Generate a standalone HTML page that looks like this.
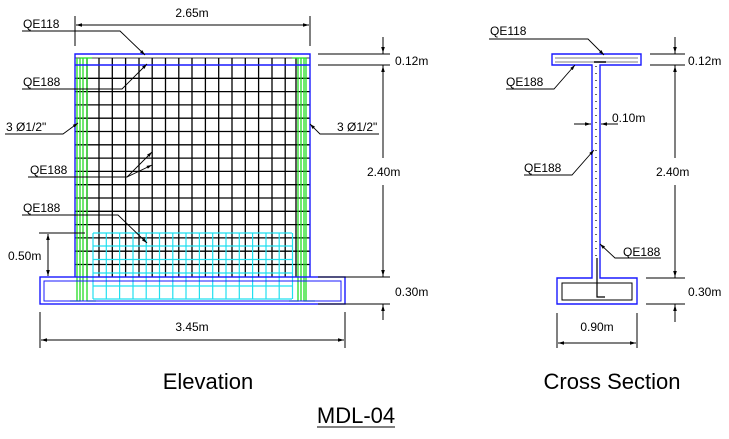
<!DOCTYPE html>
<html><head><meta charset="utf-8"><style>
html,body{margin:0;padding:0;background:#fff}
svg{display:block}
text{font-family:"Liberation Sans",sans-serif;fill:#000}
</style></head><body>
<svg width="729" height="439" viewBox="0 0 729 439" xmlns="http://www.w3.org/2000/svg">
<defs>
<marker id="a" viewBox="0 0 10 10" refX="10" refY="5" markerWidth="6" markerHeight="6" orient="auto-start-reverse"><path d="M0,2 L10,5 L0,8z" fill="#000"/></marker>
</defs>
<g stroke="#000" stroke-width="1.3">
<path d="M75,78.3H310M75,91.6H310M75,104.9H310M75,118.2H310M75,131.5H310M75,144.8H310M75,158.1H310M75,171.4H310M75,184.7H310M75,198H310M75,211.3H310M75,224.6H310M75,237.9H310M75,251.2H310M75,264.5H310"/>
<path d="M87,58V277M99,58V277M112.3,58V277M125.6,58V277M139,58V277M152.2,58V277M165.5,58V277M178.8,58V277M192,58V277M205.4,58V277M218.7,58V277M232,58V277M245.3,58V277M258.6,58V277M272,58V277M285.2,58V277M296,58V277"/>
<path d="M75,58H310" stroke-width="0.8"/>
</g>
<g stroke="#22e0f0" stroke-width="1.2" fill="none">
<path d="M93,233H292M93,246H292M93,259.5H292M93,273H292M93,286H292M93,299H292"/>
<path d="M93,233V299M106.3,233V299M119.6,233V299M133,233V299M146.2,233V299M159.5,233V299M172.8,233V299M186,233V299M199.4,233V299M212.7,233V299M226,233V299M239.3,233V299M252.6,233V299M266,233V299M279.2,233V299M292.5,233V299"/>
</g>
<g stroke="#22dd22" stroke-width="1.3" fill="none">
<path d="M77,58V301M80,58V301H70M83,58V301M87,58V301H96M80,58H92"/>
<path d="M298,58V301H289M301,58V301M304,58V301H315M306,58V301M292,58H306"/>
</g>
<g stroke="#1a1aff" stroke-width="1.4" fill="none">
<path d="M75,277V54H310V277M75,65H310"/>
<rect x="40" y="277" width="305" height="27"/>
<path d="M44,291V281H341V291M44,281V301H341V281" stroke-width="1"/>
</g>
<g stroke="#000" stroke-width="1" fill="none">
<path d="M75,16V46M310,16V46"/>
<path d="M76,25H309" marker-start="url(#a)" marker-end="url(#a)"/>
<path d="M40,312V348M345,312V348"/>
<path d="M41,340H344" marker-start="url(#a)" marker-end="url(#a)"/>
<path d="M318,54H390M318,65H390M318,277H390M318,304H390"/>
<path d="M383,37V54M383,65V158M383,185V277M383,304V320"/>
<path d="M383,42V53" marker-end="url(#a)"/><path d="M383,76V66" marker-end="url(#a)"/>
<path d="M383,266V276" marker-end="url(#a)"/><path d="M383,315V305" marker-end="url(#a)"/>
<path d="M39,233H85"/>
<path d="M48,234V276" marker-start="url(#a)" marker-end="url(#a)"/>
<path d="M22,31H120L145,55" marker-end="url(#a)" stroke-width="0.9"/>
<path d="M22,89H122L147,64" marker-end="url(#a)" stroke-width="0.9"/>
<path d="M5,134H63L78,123" marker-end="url(#a)" stroke-width="0.9"/>
<path d="M322,134H320L310,124" marker-end="url(#a)" stroke-width="0.9"/>
<path d="M28,177H127L152,152" marker-end="url(#a)" stroke-width="0.9"/>
<path d="M127,177L152,165" marker-end="url(#a)" stroke-width="0.9"/>
<path d="M22,215H118L147,243" marker-end="url(#a)" stroke-width="0.9"/>
<path d="M320,134H379" stroke-width="0.9"/>
</g>
<g font-size="12">
<text x="192" y="17" text-anchor="middle">2.65m</text>
<text x="23" y="28">QE118</text>
<text x="23" y="86">QE188</text>
<text x="6" y="131">3 Ø1/2"</text>
<text x="337" y="131">3 Ø1/2"</text>
<text x="30" y="174">QE188</text>
<text x="23" y="212">QE188</text>
<text x="8" y="260">0.50m</text>
<text x="395" y="65">0.12m</text>
<text x="367" y="176">2.40m</text>
<text x="395" y="296">0.30m</text>
<text x="192" y="331" text-anchor="middle">3.45m</text>
</g>
<g stroke="#1a1aff" stroke-width="1.4" fill="none">
<path d="M552,54H641V65H600V278H637V304H557V278H592V65H552Z"/>
</g>
<g stroke="#000" stroke-width="1" fill="none">
<path d="M555,58H638M555,62H638" stroke-width="0.6"/>
<rect x="562" y="283" width="70" height="17" stroke-width="1"/>
<path d="M596,66V258" stroke-dasharray="1,6" stroke-width="1.2"/>
<path d="M597,258V297H605" stroke-width="1.2"/>
<path d="M594,62H606" stroke-width="1.5"/>
<path d="M489,39H588L604,55" marker-end="url(#a)" stroke-width="0.9"/>
<path d="M506,89H554L575,65" marker-end="url(#a)" stroke-width="0.9"/>
<path d="M524,175H572L594,150" marker-end="url(#a)" stroke-width="0.9"/>
<path d="M661,258H615L600,244" marker-end="url(#a)" stroke-width="0.9"/>
<path d="M574,124H591" marker-end="url(#a)"/><path d="M618,124H601" marker-end="url(#a)"/>
<path d="M650,54H685M650,65H685M646,278H685M646,304H685"/>
<path d="M675,37V54M675,65V158M675,185V278M675,304V322"/>
<path d="M675,42V53" marker-end="url(#a)"/><path d="M675,76V66" marker-end="url(#a)"/>
<path d="M675,267V277" marker-end="url(#a)"/><path d="M675,315V305" marker-end="url(#a)"/>
<path d="M557,313V348M637,313V348"/>
<path d="M558,343H636" marker-start="url(#a)" marker-end="url(#a)"/>
</g>
<g font-size="12">
<text x="490" y="35">QE118</text>
<text x="506" y="86">QE188</text>
<text x="612" y="122">0.10m</text>
<text x="524" y="172">QE188</text>
<text x="623" y="256">QE188</text>
<text x="688" y="65">0.12m</text>
<text x="656" y="176">2.40m</text>
<text x="688" y="296">0.30m</text>
<text x="597" y="331" text-anchor="middle">0.90m</text>
</g>
<g font-size="22">
<text x="208" y="389" text-anchor="middle">Elevation</text>
<text x="612" y="389" text-anchor="middle">Cross Section</text>
<text x="356" y="423" text-anchor="middle">MDL-04</text>
</g>
<path d="M317,427H395" stroke="#000" stroke-width="1"/>
</svg>
</body></html>
